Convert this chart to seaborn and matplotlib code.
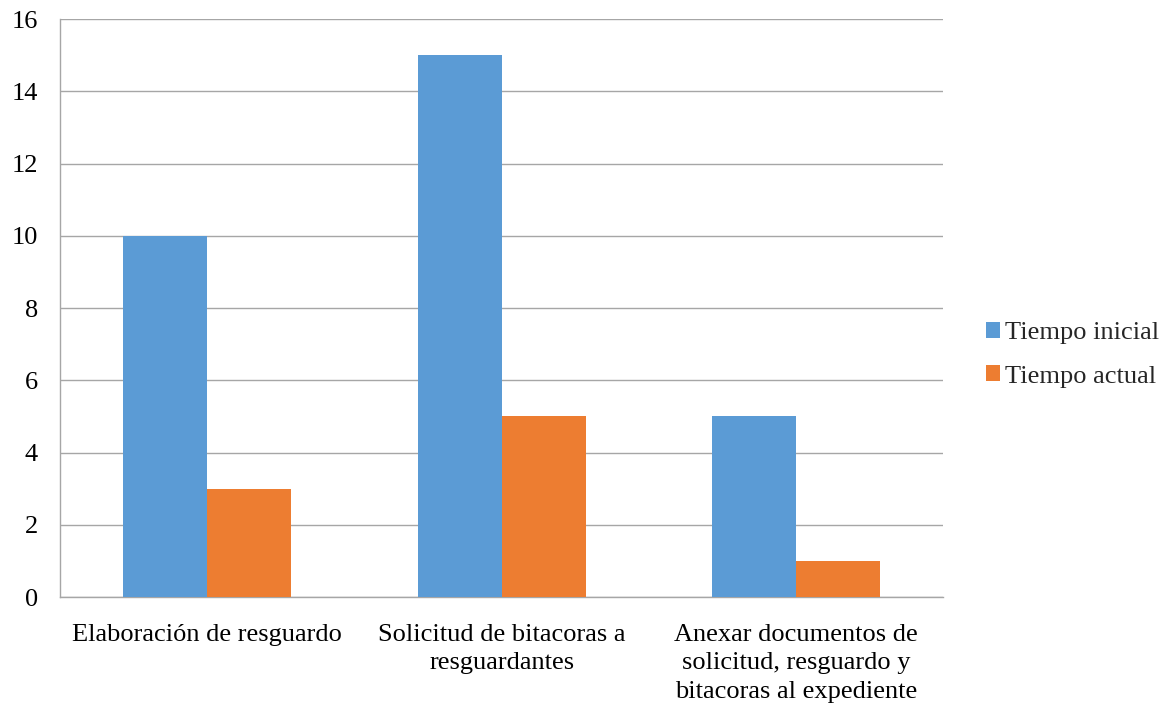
import matplotlib
matplotlib.use("Agg")
import matplotlib.pyplot as plt
import seaborn as sns
import pandas as pd

categories = ["Elaboración de resguardo",
              "Solicitud de bitacoras a\nresguardantes",
              "Anexar documentos de\nsolicitud, resguardo y\nbitacoras al expediente"]
series_names = ["Tiempo inicial", "Tiempo actual"]
tiempo_inicial = [10, 15, 5]
tiempo_actual = [3, 5, 1]
yticks = [0, 2, 4, 6, 8, 10, 12, 14, 16]

df = pd.DataFrame({
    "cat": categories * 2,
    "serie": [series_names[0]] * 3 + [series_names[1]] * 3,
    "val": tiempo_inicial + tiempo_actual,
})

sns.set_style("white")
plt.rcParams["font.family"] = ["Liberation Serif", "DejaVu Serif"]

fig = plt.figure(figsize=(11.73, 7.05), dpi=100)
ax = fig.add_axes([0.0512, 0.153, 0.753, 0.820])
sns.barplot(data=df, x="cat", y="val", hue="serie",
            palette=["#5B9BD5", "#ED7D31"], width=0.57,
            saturation=1, linewidth=0, ax=ax, zorder=3)
ax.set_ylim(0, 16)
ax.set_yticks(yticks)
ax.set_xlim(-0.5, 2.5)
ax.yaxis.grid(True, color="#A6A6A6", linewidth=1, zorder=0)
ax.set_axisbelow(True)
for s in ["top", "right"]:
    ax.spines[s].set_visible(False)
for s in ["bottom", "left"]:
    ax.spines[s].set_color("#A6A6A6")
    ax.spines[s].set_linewidth(1)
ax.tick_params(axis="y", length=0, labelsize=19, colors="black", pad=16)
ax.tick_params(axis="x", length=0, labelsize=19, colors="black", pad=19)
ax.set_xlabel("")
ax.set_ylabel("")
for lab in ax.get_xticklabels():
    lab.set_linespacing(1.4)
leg = ax.legend(loc="center left", bbox_to_anchor=(1.021, 0.419), frameon=False,
                fontsize=19, handlelength=0.55, handleheight=0.55,
                handletextpad=0.2, labelspacing=0.8)
fig.savefig("out.png", dpi=100)
